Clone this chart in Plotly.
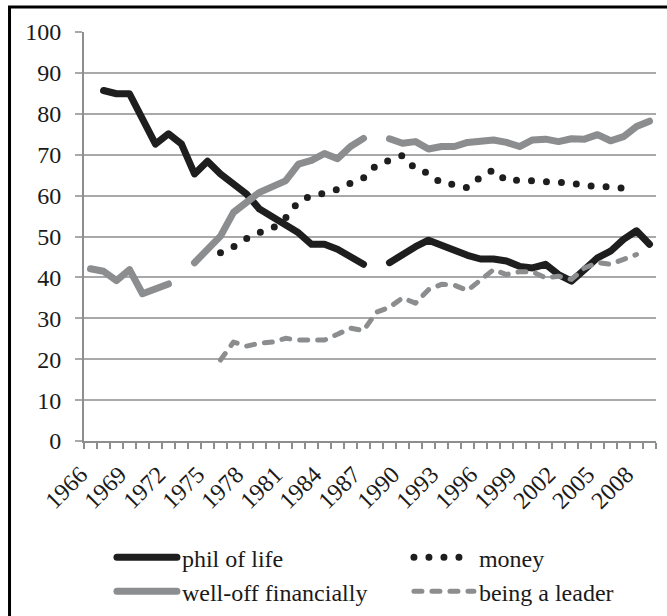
import plotly.graph_objects as go

years = list(range(1966, 2010))

phil_of_life = [None, 85.7, 84.9, 84.9, 78.8, 72.6, 75.1, 72.6, 65.3, 68.4, 65.3,
                63.0, 60.4, 56.7, 54.6, 53.0, 50.9, 48.1, 48.1, 46.9, 44.8, 43.2,
                None, 43.6, 45.8, 47.5, 49.1, 47.8, 46.6, 45.4, 44.5, 44.5, 44.0,
                42.7, 42.3, 43.2, 40.7, 39.1, 41.9, 44.8, 46.4, 49.3, 51.4, 48.1]

money = [None, None, None, None, None, None, None, None, None, None,
         46.0, 47.5, 49.5, 51.0, 52.0, 54.5, 58.5, 60.0, 60.6, 61.5, 63.0,
         64.3, 67.5, 68.5, 69.8, 66.5, 65.5, 63.0, 62.7, 61.9, 64.5, 66.3,
         63.6, 63.8, 63.5, 63.3, 63.2, 63.1, 62.4, 62.3, 62.2, 61.8, None, None]

well_off = [42.1, 41.5, 39.2, 41.9, 36.0, 37.0, 38.4, None, 43.6, 46.9, 50.1,
            55.9, 58.3, 60.8, 62.2, 63.6, 67.7, 68.6, 70.3, 69.0, 72.0, 74.0,
            None, 73.9, 72.8, 73.2, 71.4, 72.0, 72.0, 73.0, 73.2, 73.6, 73.0,
            72.0, 73.6, 73.8, 73.2, 73.9, 73.8, 74.9, 73.4, 74.4, 76.9, 78.2]

being_a_leader = [None, None, None, None, None, None, None, None, None, None,
                  19.8, 24.2, 23.2, 23.9, 24.2, 25.1, 24.7, 24.8, 24.7, 26.1, 27.6,
                  27.0, 31.5, 32.7, 35.0, 33.7, 37.0, 38.3, 38.1, 36.8, 39.5, 41.9,
                  40.7, 41.4, 41.4, 39.9, 40.3, 39.5, 42.3, 43.6, 43.2, 44.4, 45.6, None]

tick_years = list(range(1966, 2009, 3))
tick_labels = [str(y) for y in tick_years]
y_ticks = list(range(0, 101, 10))

DARK = "#1e1e1e"
GRAY = "#8c8d8f"
GRID = "#a9a9a9"
AXIS = "#8e8e8e"
SERIF = "Liberation Serif"

fig = go.Figure()
fig.add_trace(go.Scatter(x=years, y=phil_of_life, name="phil of life", mode="lines",
                         line=dict(color=DARK, width=7)))
fig.add_trace(go.Scatter(x=years, y=money, name="money", mode="lines",
                         line=dict(color=DARK, width=7, dash="0px,15px")))
fig.add_trace(go.Scatter(x=years, y=well_off, name="well-off financially", mode="lines",
                         line=dict(color=GRAY, width=7)))
fig.add_trace(go.Scatter(x=years, y=being_a_leader, name="being a leader", mode="lines",
                         line=dict(color=GRAY, width=5, dash="8px,10px")))

fig.update_layout(
    width=667, height=616,
    margin=dict(l=84, r=11, t=32, b=175, autoexpand=False),
    paper_bgcolor="white", plot_bgcolor="white",
    font=dict(family=SERIF, size=22, color="#1a1a1a"),
    showlegend=True,
    legend=dict(orientation="h", x=-0.0001, y=-0.230, xanchor="left", yanchor="top",
                entrywidth=194, itemwidth=60, indentation=28,
                font=dict(family=SERIF, size=24),
                bgcolor="rgba(0,0,0,0)"),
    xaxis=dict(range=[1965.5, 2009.5], tickmode="array", tickvals=tick_years,
               ticktext=tick_labels, tickangle=-45, ticks="", automargin=False,
               tickfont=dict(family=SERIF, size=24), ticklabelshift=-10,
               ticklabelstandoff=8,
               showline=True, linecolor=AXIS, linewidth=2, showgrid=False, zeroline=False,
               minor=dict(tickmode="linear", tick0=1965.5, dtick=1, ticks="outside",
                          ticklen=6, tickcolor=AXIS, tickwidth=1.5, showgrid=False)),
    yaxis=dict(range=[0, 100], tickmode="array", tickvals=y_ticks, ticks="outside",
               ticklen=7, tickcolor=GRID, tickwidth=1.5, ticklabelstandoff=9,
               tickfont=dict(family=SERIF, size=24), automargin=False,
               showgrid=True, gridcolor=GRID, gridwidth=1.5,
               showline=True, linecolor=AXIS, linewidth=2, zeroline=False),
)

fig.add_shape(type="rect", xref="paper", yref="paper",
              x0=-0.1302, x1=1.06, y0=-0.5, y1=1.0611,
              line=dict(color="black", width=3), fillcolor="rgba(0,0,0,0)", layer="above")

post = ("var s=document.createElement('style');"
        "s.innerHTML='body{margin:0;padding:0;overflow:hidden}"
        ".js-line{stroke-linecap:round;stroke-linejoin:round}';"
        "document.head.appendChild(s);")
fig.write_html("out.html", post_script=post, config={"displayModeBar": False})
